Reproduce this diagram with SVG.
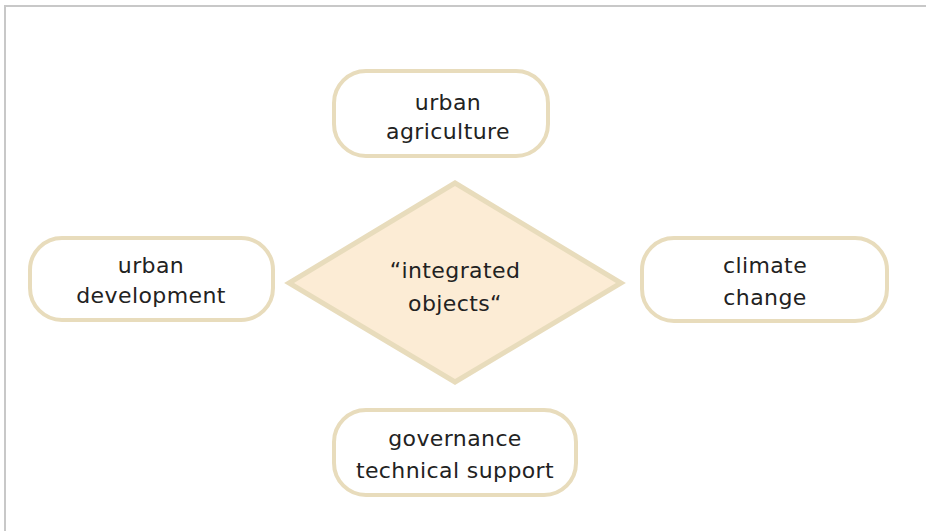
<svg xmlns="http://www.w3.org/2000/svg" width="926" height="531" viewBox="0 0 926 531">
<style>
.box{fill:#ffffff;stroke:#e8dcbc;stroke-width:4}
.dia{fill:#fcecd5;stroke:#e8dcbc;stroke-width:5;stroke-linejoin:miter}
.t{font-family:"DejaVu Sans","Liberation Sans",sans-serif;font-size:22px;fill:#222222;text-anchor:middle;letter-spacing:0.4px}
.frame{stroke:#c8c8c8;stroke-width:2;fill:none}
</style>
<rect width="926" height="531" fill="#ffffff"/>
<path class="frame" d="M5 531 V6 H926"/>
<g id="connectors"></g>
<g id="agriculture">
<rect class="box" x="334" y="71" width="214" height="85" rx="32"/>
<text class="t" x="448" y="110">urban</text>
<text class="t" x="448" y="139">agriculture</text>
</g>
<g id="development">
<rect class="box" x="30" y="238" width="243" height="82" rx="32"/>
<text class="t" x="151" y="273">urban</text>
<text class="t" x="151" y="303">development</text>
</g>
<g id="integrated">
<polygon class="dia" points="455,183 621,283 455,382 289,283"/>
<text class="t" x="455" y="278">“integrated</text>
<text class="t" x="455" y="311">objects“</text>
</g>
<g id="climate">
<rect class="box" x="642" y="238" width="245" height="83" rx="32"/>
<text class="t" x="765" y="273">climate</text>
<text class="t" x="765" y="305">change</text>
</g>
<g id="governance">
<rect class="box" x="334" y="410" width="242" height="85" rx="32"/>
<text class="t" x="455" y="446">governance</text>
<text class="t" x="455" y="478">technical support</text>
</g>
</svg>
